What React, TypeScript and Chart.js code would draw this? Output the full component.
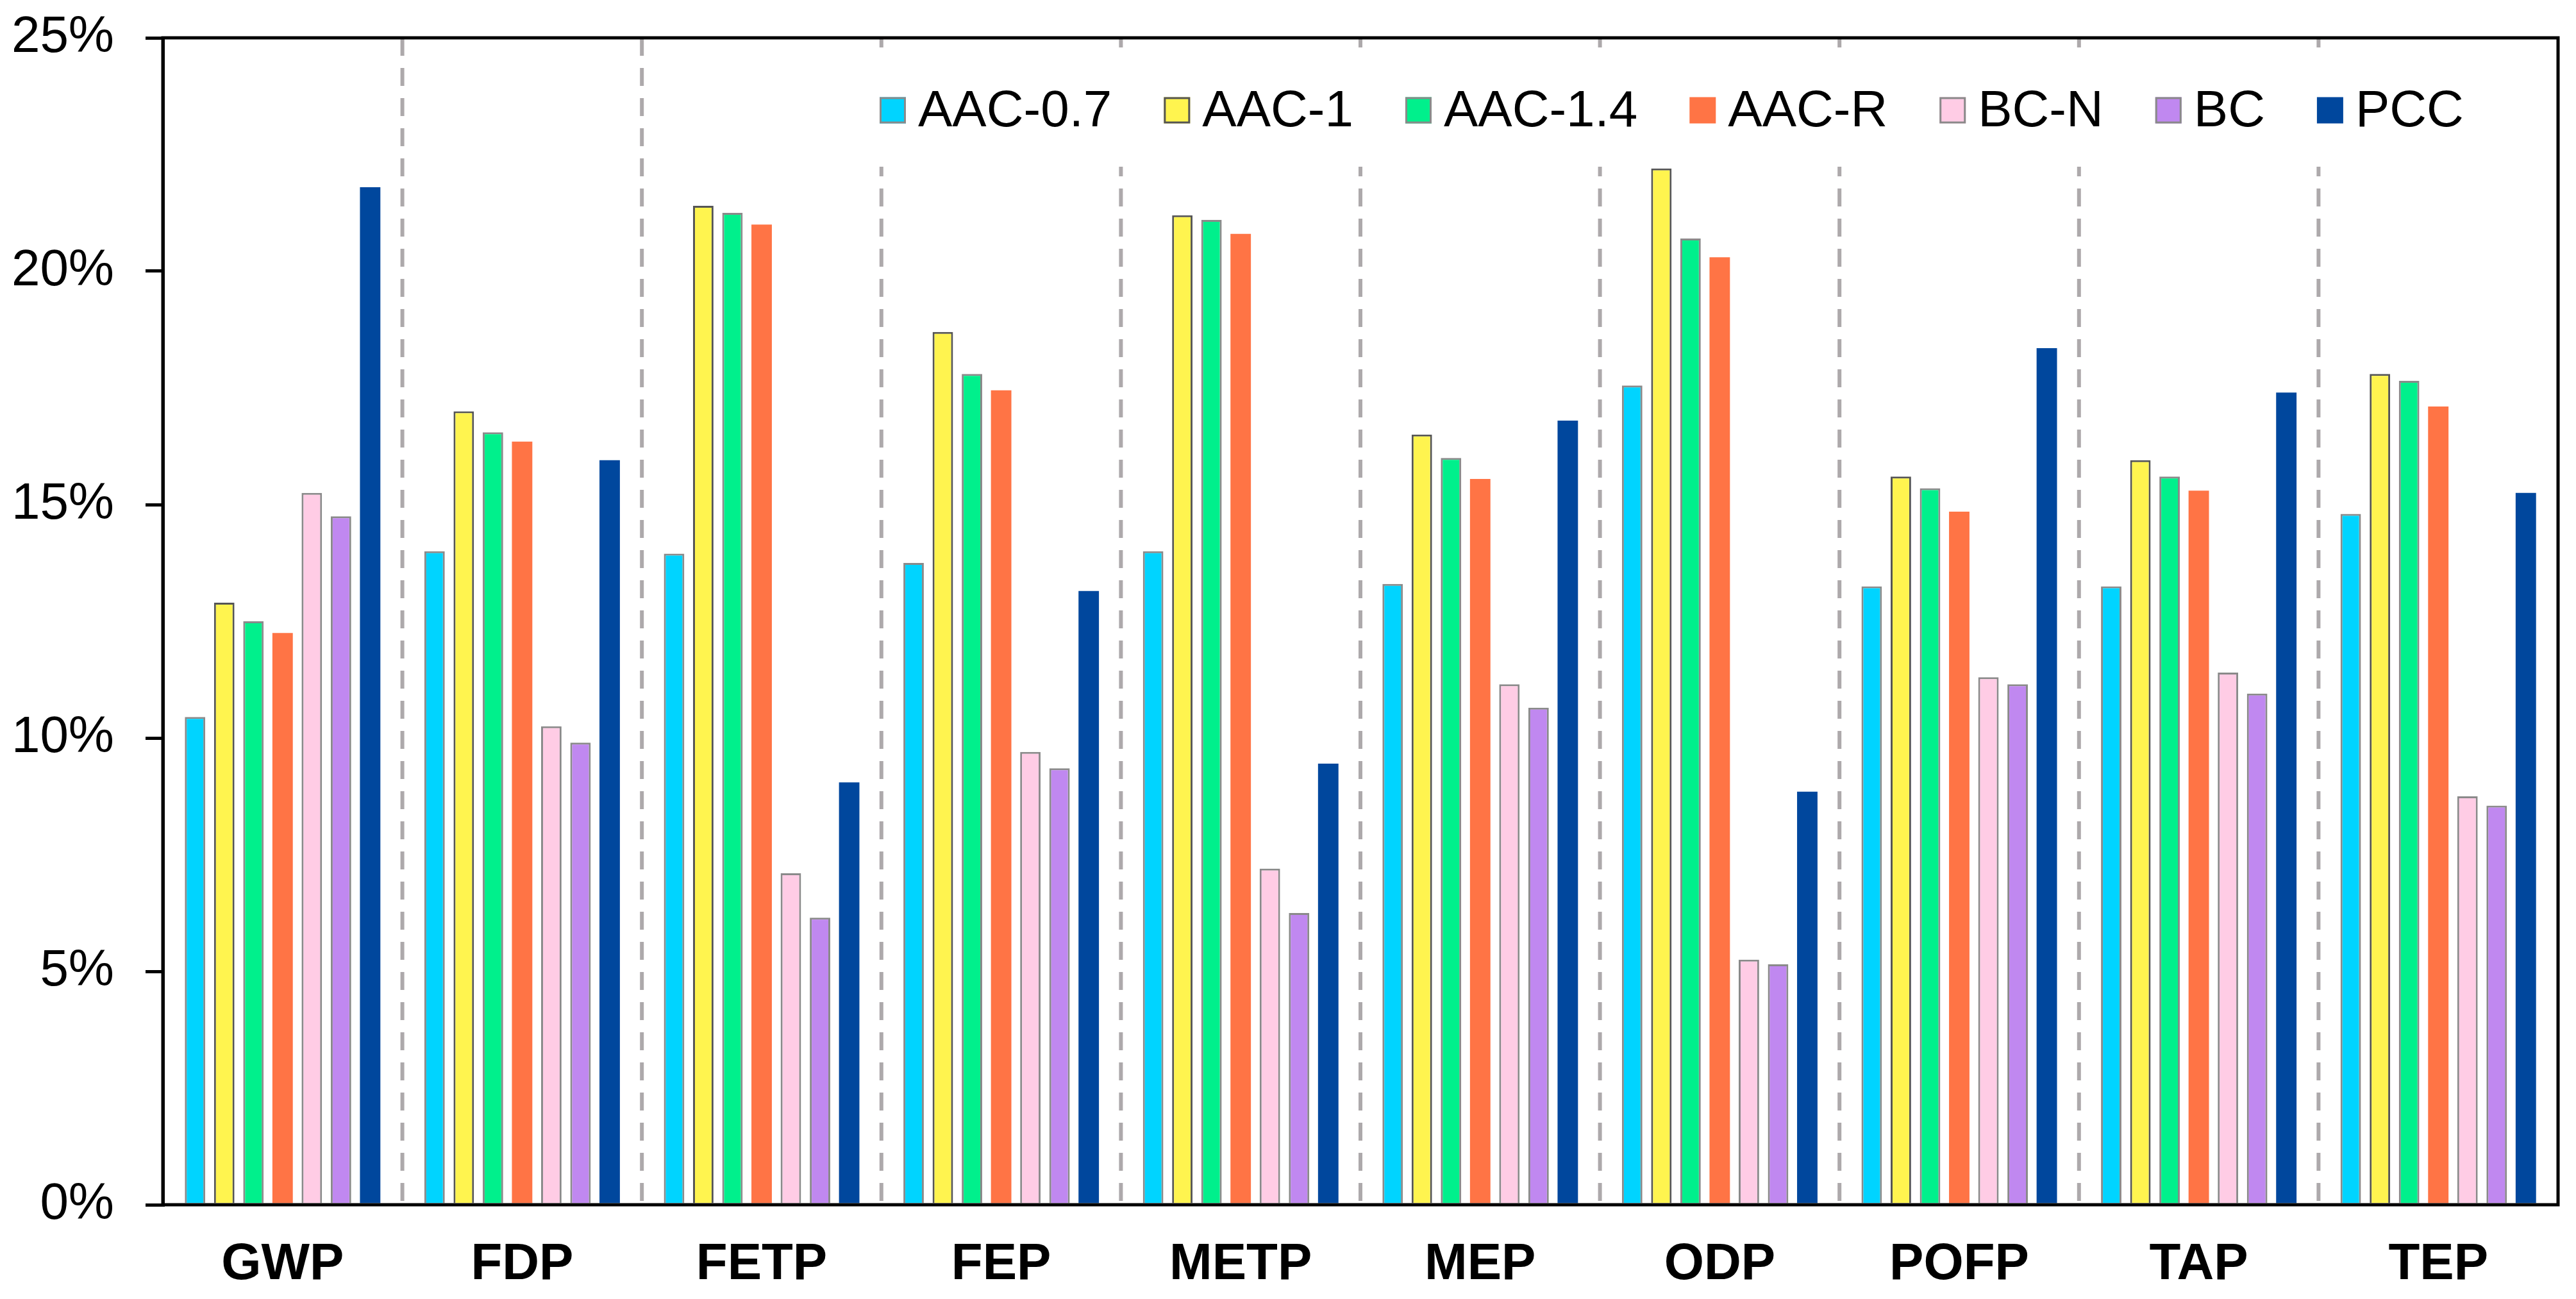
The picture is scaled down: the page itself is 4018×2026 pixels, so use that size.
import React, { useEffect, useRef } from "react";
import { Chart, registerables } from "chart.js";

Chart.register(...registerables);

const categories = ["GWP", "FDP", "FETP", "FEP", "METP", "MEP", "ODP", "POFP", "TAP", "TEP"];
const seriesNames = ["AAC-0.7", "AAC-1", "AAC-1.4", "AAC-R", "BC-N", "BC", "PCC"];
const aac07 = [10.45, 14.0, 13.95, 13.75, 14.0, 13.3, 17.55, 13.25, 13.25, 14.8];
const aac1 = [12.9, 17.0, 21.4, 18.7, 21.2, 16.5, 22.2, 15.6, 15.95, 17.8];
const aac14 = [12.5, 16.55, 21.25, 17.8, 21.1, 16.0, 20.7, 15.35, 15.6, 17.65];
const aacR = [12.25, 16.35, 21.0, 17.45, 20.8, 15.55, 20.3, 14.85, 15.3, 17.1];
const bcN = [15.25, 10.25, 7.1, 9.7, 7.2, 11.15, 5.25, 11.3, 11.4, 8.75];
const bc = [14.75, 9.9, 6.15, 9.35, 6.25, 10.65, 5.15, 11.15, 10.95, 8.55];
const pcc = [21.8, 15.95, 9.05, 13.15, 9.45, 16.8, 8.85, 18.35, 17.4, 15.25];
const yTickValues = [0, 5, 10, 15, 20, 25];

const fills = ["#00D4FF", "#FFF44F", "#00F08C", "#FF7445", "#FFCCE5", "#C088F0", "#00479D"];
const borders = ["#8A8A8A", "#555555", "#8A8A8A", "#FF7445", "#8A8A8A", "#8A8A8A", "#00479D"];

const FONT = "'Liberation Sans', Arial, Helvetica, sans-serif";

const separatorPlugin = {
  id: "separators",
  beforeDatasetsDraw(chart: any) {
    const { ctx, chartArea } = chart;
    const x = chart.scales.x;
    ctx.save();
    ctx.strokeStyle = "#ADA9AB";
    ctx.lineWidth = 6;
    ctx.setLineDash([28, 19]);
    for (let i = 0; i < categories.length - 1; i++) {
      const px = (x.getPixelForTick(i) + x.getPixelForTick(i + 1)) / 2;
      ctx.beginPath();
      ctx.moveTo(px, chartArea.top);
      ctx.lineTo(px, chartArea.bottom);
      ctx.stroke();
    }
    ctx.setLineDash([]);
    // legend background (white box inside plot)
    ctx.fillStyle = "#FFFFFF";
    ctx.fillRect(chartArea.left + 1100, 74, 2530, 186);
    ctx.restore();
  },
  afterDatasetsDraw(chart: any) {
    const { ctx, chartArea } = chart;
    ctx.save();
    ctx.strokeStyle = "#000000";
    ctx.lineWidth = 5;
    ctx.strokeRect(chartArea.left, chartArea.top, chartArea.right - chartArea.left, chartArea.bottom - chartArea.top);
    // legend
    ctx.font = `80px ${FONT}`;
    ctx.textBaseline = "middle";
    ctx.textAlign = "left";
    let lx = chartArea.left + 1118;
    const cy = 172;
    const box = 41;
    seriesNames.forEach((name, i) => {
      ctx.fillStyle = fills[i];
      ctx.fillRect(lx, cy - box / 2, box, box);
      if (borders[i] !== fills[i]) {
        ctx.strokeStyle = borders[i];
        ctx.lineWidth = 3;
        ctx.strokeRect(lx + 1.5, cy - box / 2 + 1.5, box - 3, box - 3);
      }
      lx += box + 19;
      ctx.fillStyle = "#000000";
      ctx.fillText(name, lx, cy + 3);
      lx += ctx.measureText(name).width + 81;
    });
    ctx.restore();
  },
};

export default function App() {
  const ref = useRef<HTMLCanvasElement | null>(null);
  useEffect(() => {
    if (!ref.current) return;
    const allData = [aac07, aac1, aac14, aacR, bcN, bc, pcc];
    const chart = new Chart(ref.current, {
      type: "bar",
      data: {
        labels: categories,
        datasets: seriesNames.map((name, i) => ({
          label: name,
          data: allData[i],
          backgroundColor: fills[i],
          borderColor: borders[i],
          borderWidth: borders[i] === fills[i] ? 0 : 3,
          categoryPercentage: 0.853,
          barPercentage: 0.7,
        })),
      },
      options: {
        animation: false,
        responsive: true,
        maintainAspectRatio: false,
        devicePixelRatio: 1,
        layout: { padding: { top: 59, right: 28, left: 0, bottom: 0 } },
        plugins: {
          legend: { display: false },
          tooltip: { enabled: false },
        },
        scales: {
          x: {
            grid: { display: false, drawTicks: false },
            border: { display: false },
            ticks: {
              color: "#000000",
              font: { family: FONT, size: 80, weight: "bold" },
              padding: 46,
              maxRotation: 0,
              autoSkip: false,
            },
            afterFit(scale: any) {
              scale.height = 147;
              scale.paddingLeft = 0;
              scale.paddingRight = 0;
            },
          },
          y: {
            min: 0,
            max: 25,
            afterBuildTicks(scale: any) {
              scale.ticks = yTickValues.map((v) => ({ value: v }));
            },
            grid: {
              display: true,
              drawOnChartArea: false,
              drawTicks: true,
              tickLength: 27,
              tickColor: "#000000",
              tickWidth: 5,
              color: "#000000",
              lineWidth: 5,
            },
            border: { display: true, color: "#000000", width: 5 },
            ticks: {
              color: "#000000",
              font: { family: FONT, size: 80 },
              padding: 49,
              callback: (v: any) => `${v}%`,
            },
            afterFit(scale: any) {
              scale.width = 254;
              scale.paddingTop = 0;
              scale.paddingBottom = 0;
            },
          },
        },
      },
      plugins: [separatorPlugin],
    });
    return () => chart.destroy();
  }, []);
  return (
    <div style={{ position: "fixed", left: 0, top: 0, width: "4018px", height: "2026px", background: "#FFFFFF" }}>
      <canvas ref={ref} />
    </div>
  );
}
